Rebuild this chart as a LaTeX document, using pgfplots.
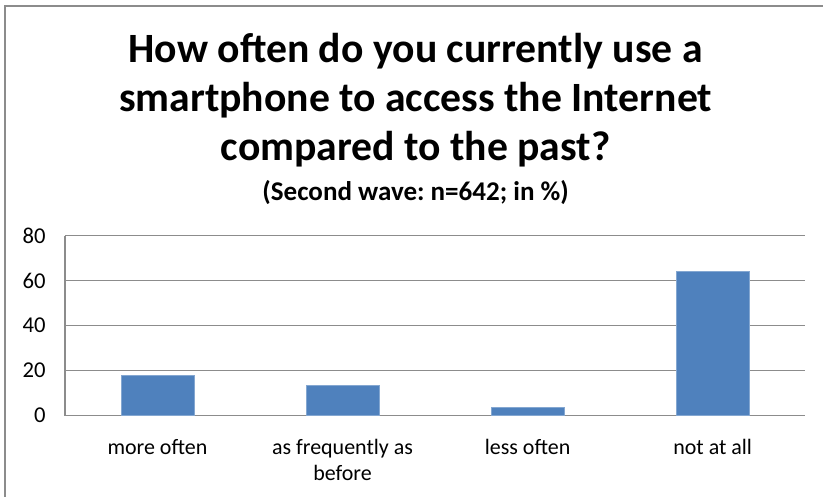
\documentclass[border=0pt]{standalone}
\usepackage{pgfplots}
\pgfplotsset{compat=1.18}
\usepackage{fontspec}
\setmainfont{Carlito}
\frenchspacing
\definecolor{barblue}{HTML}{4F81BD}
\definecolor{gridgray}{HTML}{8C8C8C}
\begin{document}
\frenchspacing
\begin{tikzpicture}[x=1pt,y=1pt]
\path (0,0) rectangle (618,372.75);
\draw[gridgray,line width=1.2pt] (3.75,0) -- (3.75,368.25) -- (618,368.25);
\node[anchor=base,font=\bfseries\fontsize{31.3}{34}\selectfont] at (312,372.75-63*0.75) {How often do you currently use a};
\node[anchor=base,font=\bfseries\fontsize{31.3}{34}\selectfont] at (312,372.75-112*0.75) {smartphone to access the Internet};
\node[anchor=base,font=\bfseries\fontsize{31.3}{34}\selectfont] at (312,372.75-161*0.75) {compared to the past?};
\node[anchor=base,font=\bfseries\fontsize{20.3}{23}\selectfont] at (312,372.75-201*0.75) {\frenchspacing(Second wave: n=642; in \%)};
\begin{axis}[
  at={(48.75pt,60.75pt)}, anchor=origin,
  scale only axis, width=555.75pt, height=135pt,
  xmin=0, xmax=4, ymin=0, ymax=80,
  ytick={0,20,40,60,80},
  xtick={0.5,1.5,2.5,3.5},
  xticklabels={more often, as frequently as\\before, less often, not at all},
  xticklabel style={align=center, font=\fontsize{16.5}{19.5}\selectfont, yshift=-14pt},
  yticklabel style={font=\fontsize{17}{18}\selectfont, xshift=-11pt},
  /pgf/number format/assume math mode=true,
  major tick length=0pt,
  axis x line*=bottom, axis y line*=left,
  axis line style={gridgray, line width=0.9pt, -},
  ymajorgrids, grid style={gridgray, line width=0.9pt},
]
\addplot[ybar, bar width=54.75pt, fill=barblue, draw=barblue!70!white, line width=0.5pt] coordinates {(0.5,17.8) (1.5,13.6) (2.5,3.7) (3.5,64.1)};
\end{axis}
\end{tikzpicture}
\end{document}
